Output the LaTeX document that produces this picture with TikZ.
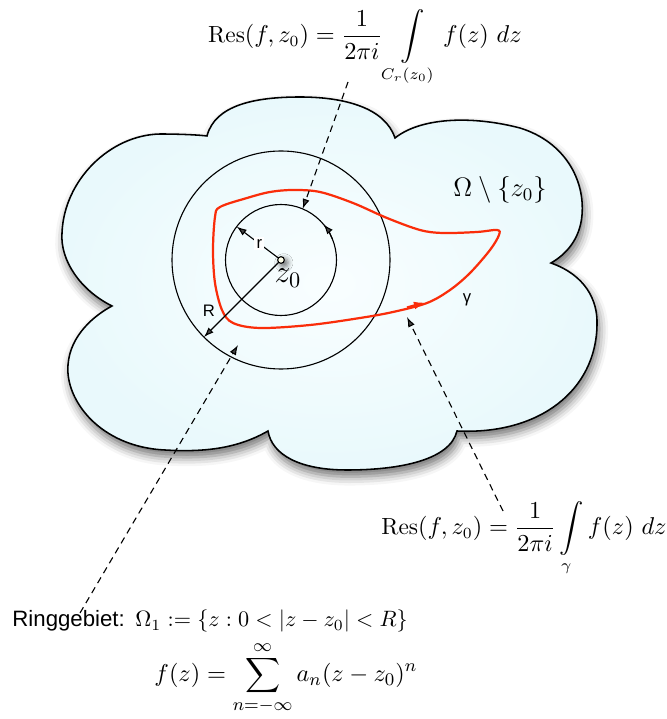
\documentclass[tikz,border=0pt]{standalone}
\usepackage{fontspec}
\usepackage{amsmath}
\newfontfamily\helv{Liberation Sans}
\usetikzlibrary{arrows.meta,shadows.blur,calc}
\definecolor{redc}{RGB}{250,45,10}
\definecolor{cloudin}{RGB}{249,254,255}
\definecolor{cloudout}{RGB}{233,249,252}
\definecolor{dotfill}{RGB}{255,255,235}
\begin{document}
\begin{tikzpicture}[x=0.45pt,y=0.45pt,
  thinline/.style={line width=0.5pt},
  arr/.style={-{Latex[length=4.5pt,width=3.2pt]}},
  dashedarrow/.style={thinline, dash pattern=on 3pt off 2.2pt, arr},
  sflabel/.style={font=\helv\fontsize{7.5}{9}\selectfont, inner sep=1pt},
  mathlabel/.style={inner sep=0pt, anchor=base},
  bigmath/.style={mathlabel, font=\fontsize{10.5}{12}\selectfont}]
\useasboundingbox (0,0) rectangle (666,719);
% cloud
\path[draw=black, line width=0.7pt, inner color=cloudin, outer color=cloudout,
  blur shadow={shadow xshift=1pt, shadow yshift=-3pt, shadow blur radius=4pt, shadow opacity=55}]
  (207,583) .. controls (215,614) and (255,622) .. (300,622)
  .. controls (345,622) and (385,611) .. (395,581)
  .. controls (420,601) and (470,604) .. (520,591)
  .. controls (565,577) and (585,539) .. (582,504)
  .. controls (580,479) and (565,464) .. (551,456)
  .. controls (585,444) and (598,419) .. (597,394)
  .. controls (596,329) and (540,284) .. (457,288)
  .. controls (450,259) and (400,249) .. (347,249)
  .. controls (300,249) and (272,264) .. (268,288)
  .. controls (235,269) and (200,267) .. (165,269)
  .. controls (100,272) and (65,319) .. (68,354)
  .. controls (70,384) and (95,404) .. (112,413)
  .. controls (80,429) and (60,459) .. (62,486)
  .. controls (64,539) and (110,584) .. (160,585)
  .. controls (180,585) and (200,584) .. (207,583) -- cycle;
% circles
\coordinate (C) at (281,459);
\node[circle, draw, thinline, inner sep=0pt, outer sep=0pt, minimum size=218*0.45pt] (outer) at (C) {};
\node[circle, draw, thinline, inner sep=0pt, outer sep=0pt, minimum size=111*0.45pt] (inner) at (C) {};
% red curve
\draw[redc, line width=1pt] plot[smooth cycle, tension=0.55] coordinates {
  (215,502) (220,512) (247,521) (270,527) (293,529) (320,527) (353,516)
  (387,501) (420,489) (443,486) (477,487) (497,489) (499,484) (490,469)
  (470,446) (450,429) (427,416) (393,407) (360,401) (310,394) (260,391)
  (233,396) (222,409) (215,436) (213,469)};
\draw[redc, line width=1pt, -{Latex[length=5pt,width=3.6pt]}] (407,411.5) -- (425,416.5);
\node[sflabel] (glab) at (467,419) {γ};
% centre dot
\node[circle, draw, thinline, fill=dotfill, inner sep=0pt, minimum size=3pt,
  blur shadow={shadow xshift=0.9pt, shadow yshift=-0.9pt, shadow blur radius=1.5pt, shadow scale=1.4, shadow opacity=50}] (zdot) at (C) {};
\node[mathlabel, font=\Large] (zlab) at (288,436) {$z_0$};
% radii
\draw[thinline, arr] (zdot) -- (inner.143) node[pos=0.45, fill=white, sflabel] (rlab) {r};
\draw[thinline, arr] (zdot) -- (outer.225);
\node[sflabel] (Rlab) at (209,408) {R};
\draw[thinline, arr] (inner.22) arc[start angle=22, end angle=40, radius=55.5];
% region label
\node[mathlabel, font=\large] (omega) at (500,522) {$\Omega\setminus\{z_0\}$};
% formulas
\node[bigmath] (resTop) at (365,676) {$\displaystyle \mathrm{Res}(f,z_0)=\frac{1}{2\pi i}\int\limits_{C_r(z_0)} f(z)\ dz$};
\node[bigmath] (resBot) at (524,184) {$\displaystyle \mathrm{Res}(f,z_0)=\frac{1}{2\pi i}\int\limits_{\gamma} f(z)\ dz$};
\node[anchor=base west, inner sep=0pt, font=\helv] (ring) at (12,92) {Ringgebiet:};
\node[anchor=base west, inner sep=0pt] (omega1) at (135,92) {$\Omega_1 := \{z : 0 < |z - z_0| < R\}$};
\node[mathlabel, font=\fontsize{11}{13}\selectfont] (laurent) at (286,37) {$\displaystyle f(z)=\sum_{n=-\infty}^{\infty} a_n (z-z_0)^n$};
% dashed connectors
\coordinate (topstart) at (348,637);
\coordinate (botstart) at (503,208);
\coordinate (ringstart) at (80,106);
\coordinate (gammapt) at (407,402);
\coordinate (annpt) at (238,374);
\draw[dashedarrow] (topstart) -- (inner.67);
\draw[dashedarrow] (botstart) -- (gammapt);
\draw[dashedarrow] (ringstart) -- (annpt);
\end{tikzpicture}
\end{document}
